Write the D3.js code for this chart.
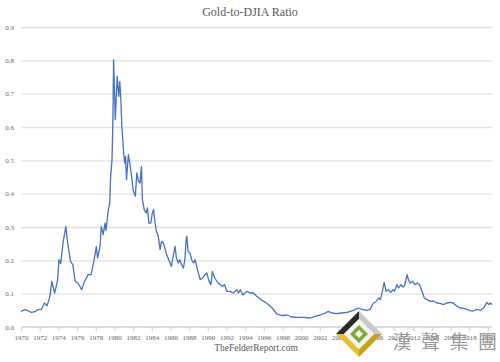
<!DOCTYPE html>
<html>
<head>
<meta charset="utf-8">
<script src="https://cdn.jsdelivr.net/npm/d3@7"></script>
<style>
	body { margin: 0; background: #fff; }
	svg { display: block; }
</style>
</head>
<body>
<svg id="chart"></svg>
<script>
// decimal year of each reading
var years = [
	1970.0, 1970.4, 1970.8, 1971.1, 1971.5, 1971.8, 1972.2, 1972.5, 1972.8, 1973.1,
	1973.3, 1973.6, 1973.9, 1974.07, 1974.25, 1974.5, 1974.8, 1975.0, 1975.3, 1975.55,
	1975.8, 1976.1, 1976.5, 1976.8, 1977.2, 1977.5, 1977.8, 1978.07, 1978.2, 1978.47,
	1978.6, 1978.8, 1979.0, 1979.1, 1979.36, 1979.5, 1979.6, 1979.75, 1979.85, 1979.92,
	1980.1, 1980.3, 1980.47, 1980.58, 1980.7, 1980.8, 1981.0, 1981.1, 1981.2, 1981.3,
	1981.5, 1981.65, 1981.85, 1982.0, 1982.25, 1982.4, 1982.6, 1982.75, 1982.9, 1983.0,
	1983.2, 1983.4, 1983.55, 1983.7, 1983.9, 1984.07, 1984.2, 1984.36, 1984.5, 1984.7,
	1984.9, 1985.05, 1985.25, 1985.45, 1985.6, 1985.97, 1986.1, 1986.3, 1986.5, 1986.65,
	1986.85, 1987.0, 1987.2, 1987.4, 1987.55, 1987.7, 1987.76, 1987.9, 1988.1, 1988.3,
	1988.5, 1988.65, 1988.9, 1989.2, 1989.45, 1989.7, 1989.9, 1990.15, 1990.35, 1990.5,
	1990.75, 1991.1, 1991.35, 1991.6, 1991.8, 1992.05, 1992.4, 1992.75, 1993.1, 1993.3,
	1993.5, 1993.75, 1994.2, 1994.55, 1994.9, 1995.25, 1995.8, 1996.3, 1996.9, 1997.4,
	1997.95, 1998.5, 1999.0, 1999.55, 2000.25, 2001.0, 2001.5, 2002.05, 2002.6, 2002.9,
	2003.3, 2003.8, 2004.35, 2004.9, 2005.6, 2006.15, 2006.5, 2007.05, 2007.4, 2007.75,
	2008.0, 2008.3, 2008.5, 2008.75, 2008.9, 2009.1, 2009.35, 2009.6, 2009.85, 2010.0,
	2010.25, 2010.45, 2010.7, 2010.9, 2011.05, 2011.2, 2011.35, 2011.5, 2011.7, 2011.95,
	2012.2, 2012.45, 2012.7, 2012.95, 2013.2, 2013.5, 2013.85, 2014.2, 2014.55, 2014.9,
	2015.26, 2015.6, 2015.98, 2016.3, 2016.7, 2017.05, 2017.4, 2017.76, 2018.1, 2018.45,
	2018.8, 2019.2, 2019.55, 2019.9, 2020.1, 2020.3, 2020.45
];

// gold price divided by the Dow
var ratio = [
	0.047, 0.052, 0.048, 0.044, 0.046, 0.052, 0.053, 0.072, 0.064, 0.092,
	0.137, 0.102, 0.137, 0.202, 0.19, 0.252, 0.302, 0.252, 0.197, 0.187,
	0.137, 0.132, 0.112, 0.137, 0.157, 0.157, 0.197, 0.242, 0.207, 0.242,
	0.302, 0.277, 0.312, 0.29, 0.352, 0.372, 0.452, 0.502, 0.632, 0.802,
	0.622, 0.752, 0.692, 0.737, 0.682, 0.602, 0.522, 0.492, 0.512, 0.442,
	0.517, 0.492, 0.452, 0.412, 0.392, 0.462, 0.437, 0.432, 0.482, 0.382,
	0.352, 0.342, 0.357, 0.312, 0.312, 0.342, 0.352, 0.312, 0.287, 0.272,
	0.232, 0.257, 0.252, 0.232, 0.217, 0.192, 0.182, 0.212, 0.242, 0.207,
	0.192, 0.202, 0.187, 0.177, 0.202, 0.267, 0.272, 0.227, 0.222, 0.2,
	0.192, 0.202, 0.172, 0.142, 0.147, 0.157, 0.162, 0.137, 0.127, 0.167,
	0.147, 0.132, 0.127, 0.122, 0.127, 0.107, 0.107, 0.102, 0.112, 0.102,
	0.112, 0.097, 0.107, 0.102, 0.102, 0.092, 0.08, 0.072, 0.057, 0.039,
	0.034, 0.036, 0.030, 0.029, 0.029, 0.027, 0.032, 0.036, 0.042, 0.047,
	0.042, 0.040, 0.042, 0.044, 0.050, 0.057, 0.053, 0.050, 0.053, 0.072,
	0.075, 0.087, 0.082, 0.112, 0.134, 0.107, 0.112, 0.104, 0.112, 0.107,
	0.127, 0.117, 0.127, 0.12, 0.122, 0.137, 0.157, 0.142, 0.132, 0.137,
	0.127, 0.132, 0.127, 0.107, 0.087, 0.082, 0.077, 0.078, 0.072, 0.071,
	0.067, 0.072, 0.074, 0.072, 0.062, 0.057, 0.056, 0.053, 0.049, 0.048,
	0.053, 0.050, 0.057, 0.074, 0.067, 0.072, 0.067
];

var xTicks = d3.range(1970, 2021, 2);
var yTicks = [0, 0.1, 0.2, 0.3, 0.4, 0.5, 0.6, 0.7, 0.8, 0.9];
var yLabels = ["0.0", "0.1", "0.2", "0.3", "0.4", "0.5", "0.6", "0.7", "0.8", "0.9"];
var watermarkChars = ["漢", "聲", "集", "團"];

var W = 500, H = 362;
var margin = { top: 27, right: 8, bottom: 35, left: 21 };
var innerW = W - margin.left - margin.right;
var innerH = H - margin.top - margin.bottom;

var svg = d3.select("#chart").attr("width", W).attr("height", H);
var serif = "'Liberation Serif', 'DejaVu Serif', serif";

var x = d3.scaleLinear().domain([1970, 2020.45]).range([margin.left, margin.left + innerW]);
var y = d3.scaleLinear().domain([0, 0.9]).range([margin.top + innerH, margin.top]);

// title
svg.append("text")
	.attr("x", 250).attr("y", 16)
	.attr("text-anchor", "middle")
	.attr("font-family", serif)
	.attr("font-size", 12)
	.attr("fill", "#595959")
	.text("Gold-to-DJIA Ratio");

// horizontal gridlines + y labels
var yAxis = svg.append("g")
	.attr("transform", "translate(" + margin.left + ",0)")
	.call(d3.axisLeft(y).tickValues(yTicks).tickSize(-innerW).tickPadding(7)
		.tickFormat(function(d, i) { return yLabels[i]; }));
yAxis.select(".domain").remove();
yAxis.selectAll(".tick line")
	.attr("stroke", function(d) { return d === 0 ? "none" : "#e2e2e2"; })
	.attr("stroke-width", 1.3);
yAxis.selectAll(".tick text")
	.attr("font-family", serif).attr("font-size", 7).attr("fill", "#666");

// x axis
var xAxis = svg.append("g")
	.attr("transform", "translate(0," + y(0) + ")")
	.call(d3.axisBottom(x).tickValues(xTicks).tickSize(4).tickPadding(4).tickFormat(d3.format("d")));
xAxis.select(".domain")
	.attr("stroke", "#d0d0d0").attr("stroke-width", 1.3)
	.attr("d", "M" + margin.left + ",0H" + (margin.left + innerW));
xAxis.selectAll(".tick line").attr("stroke", "#d0d0d0");
xAxis.selectAll(".tick text")
	.attr("font-family", serif).attr("font-size", 7).attr("fill", "#666");

// the ratio line
var points = years.map(function(d, i) { return [d, ratio[i]]; });
var line = d3.line()
	.x(function(d) { return x(d[0]); })
	.y(function(d) { return y(d[1]); });

svg.append("path")
	.datum(points)
	.attr("fill", "none")
	.attr("stroke", "#4472C4")
	.attr("stroke-width", 1.3)
	.attr("stroke-linejoin", "round")
	.attr("d", line);

// source
svg.append("text")
	.attr("x", 256).attr("y", 351)
	.attr("text-anchor", "middle")
	.attr("font-family", serif)
	.attr("font-size", 9.5)
	.attr("fill", "#595959")
	.text("TheFelderReport.com");

// watermark logo
var cx = 359, cy = 334, r = 23, ri = 15;
var logo = svg.append("g");
function diamond(rr) {
	return [[cx, cy - rr], [cx + rr, cy], [cx, cy + rr], [cx - rr, cy]];
}
var o = diamond(r), n = diamond(ri);
var bevels = [
	{ pts: [o[3], o[0], n[0], n[3]], fill: "#2a2a2a" },
	{ pts: [o[0], o[1], n[1], n[0]], fill: "#c8c8c8" },
	{ pts: [o[1], o[2], n[2], n[1]], fill: "#c9a01c" },
	{ pts: [o[2], o[3], n[3], n[2]], fill: "#e6c32e" }
];
logo.selectAll("polygon.bevel")
	.data(bevels)
	.enter().append("polygon")
	.attr("class", "bevel")
	.attr("points", function(d) { return d.pts.join(" "); })
	.attr("fill", function(d) { return d.fill; });
logo.append("polygon").attr("points", n.join(" ")).attr("fill", "#f2f2f2");
logo.append("polygon").attr("points", diamond(9).join(" ")).attr("fill", "#7fa83d");
logo.append("polygon").attr("points", diamond(4).join(" ")).attr("fill", "#f5f5f5");

svg.selectAll("text.wm")
	.data(watermarkChars)
	.enter().append("text")
	.attr("class", "wm")
	.attr("x", function(d, i) { return 402 + i * 28.5; })
	.attr("y", 349)
	.attr("text-anchor", "middle")
	.attr("font-family", "'Noto Sans CJK TC', 'Noto Sans CJK SC', sans-serif")
	.attr("font-size", 19)
	.attr("fill", "#8a8a8a")
	.attr("fill-opacity", 0.9)
	.text(function(d) { return d; });
</script>
</body>
</html>
